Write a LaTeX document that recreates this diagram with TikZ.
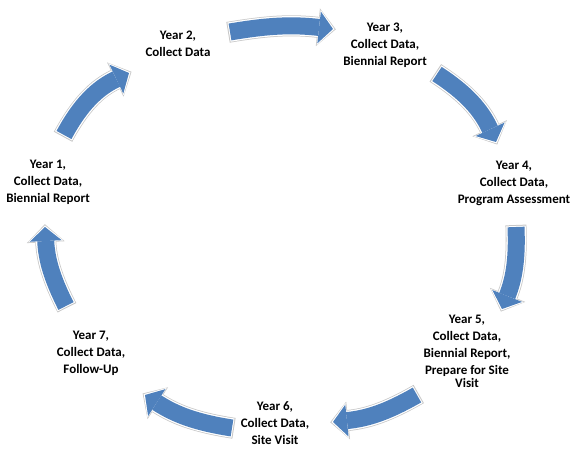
\documentclass[tikz,border=0pt]{standalone}
\usepackage{fontspec}
\setmainfont{Carlito}
\usetikzlibrary{arrows.meta}
\definecolor{cycleblue}{HTML}{4F81BD}
\tikzstyle{year} = [align=center, font=\fontsize{13}{17}\selectfont\bfseries, inner sep=0pt]
\tikzstyle{arrowhalo} = [draw=black!22, line width=21pt, shorten <=-2pt, shorten >=-2.8pt, -{Triangle[width=38pt,length=18pt,line width=0pt]}]
\tikzstyle{arrowgap} = [draw=white, line width=19.5pt, shorten <=-1pt, shorten >=-1.6pt, -{Triangle[width=35.5pt,length=16pt,line width=0pt]}]
\tikzstyle{arrowbody} = [draw=cycleblue, line width=17pt, -{Triangle[width=32pt,length=14pt,line width=0pt]}]
\newcommand{\cyclearrow}[3]{%
  \draw [arrowhalo] (#1) to[bend left=#3] (#2);
  \draw [arrowgap] (#1) to[bend left=#3] (#2);
  \draw [arrowbody] (#1) to[bend left=#3] (#2);}

\begin{document}
\begin{tikzpicture}[x=1pt, y=1pt]
\useasboundingbox (0,0) rectangle (572,449);

\node (y1) [year] at (48,267) {Year 1,\\Collect Data,\\Biennial Report};
\node (y2) [year] at (178,405) {Year 2,\\Collect Data};
\node (y3) [year] at (385,404) {Year 3,\\Collect Data,\\Biennial Report};
\node (y4) [year] at (514,266) {Year 4,\\Collect Data,\\Program Assessment};
\node (y5) [year] at (467,98) {Year 5,\\Collect Data,\\Biennial Report,\\Prepare for Site\\[-4pt]Visit};
\node (y6) [year] at (275,26) {Year 6,\\Collect Data,\\Site Visit};
\node (y7) [year] at (91,96) {Year 7,\\Collect Data,\\Follow-Up};

\coordinate (t1) at (64,314);  \coordinate (h1) at (129,376);
\coordinate (t2) at (230,417); \coordinate (h2) at (333,420);
\coordinate (t3) at (437,375); \coordinate (h3) at (496,307);
\coordinate (t4) at (516,222); \coordinate (h4) at (502,140);
\coordinate (t5) at (417,54);  \coordinate (h5) at (333,27);
\coordinate (t6) at (232,21);  \coordinate (h6) at (145,54);
\coordinate (t7) at (66,143);  \coordinate (h7) at (45,222);

\cyclearrow{t1}{h1}{18}
\cyclearrow{t2}{h2}{8}
\cyclearrow{t3}{h3}{16}
\cyclearrow{t4}{h4}{12}
\cyclearrow{t5}{h5}{12}
\cyclearrow{t6}{h6}{12}
\cyclearrow{t7}{h7}{12}

\end{tikzpicture}
\end{document}
